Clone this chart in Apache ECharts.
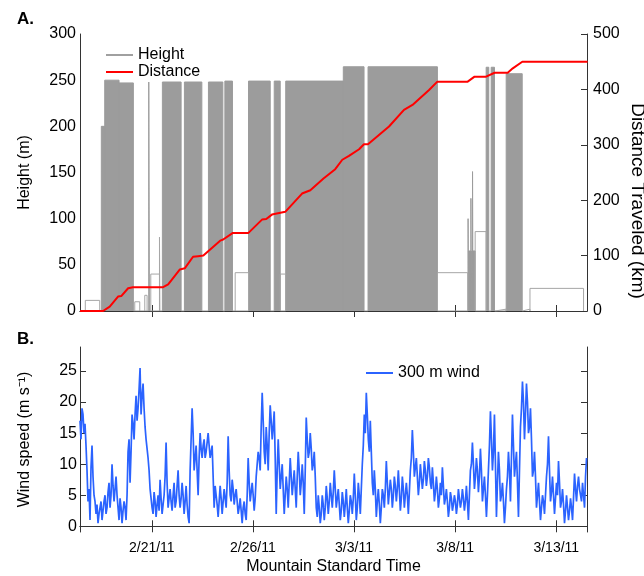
<!DOCTYPE html>
<html><head><meta charset="utf-8">
<script src="https://cdn.jsdelivr.net/npm/echarts@6/dist/echarts.min.js"></script>
<style>html,body{margin:0;padding:0;background:#fff}#c{width:644px;height:576px}</style>
</head><body><div id="c"></div>
<script>
// ---------- data (x in days since 2/16/11 00:00 MST) ----------
const tickDays = [5, 10, 15, 20, 25];
const tickLabels = ['2/21/11', '2/26/11', '3/3/11', '3/8/11', '3/13/11'];
const xMinDay = 1.45, xMaxDay = 26.52;
const windTicks = [0, 5, 10, 15, 20, 25];

// dense profiling periods of the tethered balloon (filled)
const heightBlockStart = [2.504, 2.673, 3.381, 4.851, 5.524, 6.613, 7.801, 8.613, 9.782, 11.054, 11.623, 14.470, 15.693, 20.64, 20.66, 20.78, 20.80, 20.86, 20.88, 21.534, 21.782, 22.524];
const heightBlockEnd   = [2.673, 3.381, 4.089, 4.881, 6.450, 7.475, 8.514, 8.990, 10.856, 11.351, 14.470, 15.495, 19.123, 20.66, 20.78, 20.80, 20.86, 20.88, 20.99, 21.663, 21.945, 23.316];
const heightBlockTop   = [200, 250, 247, 248, 248, 248, 248, 249, 249, 249, 249, 264.5, 264.5, 100, 65, 122, 65, 151, 65, 264, 264, 257];

// low-level holding periods (outline only)
const heightLowStart = [1.712, 4.158, 4.653, 4.950, 5.38, 9.123, 11.351, 19.123, 20.99, 21.98, 23.32, 23.70];
const heightLowEnd   = [2.425, 4.405, 4.767, 5.38, 5.40, 9.782, 11.623, 20.623, 21.534, 22.52, 23.70, 26.35];
const heightLowLevel = [11.5, 10, 17, 40, 80, 41.5, 40, 41.5, 86, 2, 2, 24.5];

// cumulative distance traveled (km)
const distanceDay = [1.45, 2.59, 2.92, 3.33, 3.49, 3.83, 4.07, 5.56, 5.81, 6.39, 6.63, 7.04, 7.29, 7.55, 8.38, 8.53, 9.01, 9.78, 10.45, 10.66, 10.94, 11.60, 12.43, 12.84, 13.49, 14.07, 14.42, 14.75, 15.25, 15.49, 15.69, 16.73, 17.47, 17.89, 18.71, 19.12, 20.62, 20.96, 21.53, 21.95, 22.60, 22.85, 23.32, 26.55];
const distanceKm  = [0, 0, 8, 26, 27, 41, 43, 43, 48, 75, 77, 98, 99, 100, 127, 129, 141, 141, 165, 166, 174, 179, 212, 218, 239, 256, 273, 280, 292, 301, 301, 333, 363, 372, 399, 414, 414, 423, 423, 430, 430, 438, 450, 450];

// 300 m wind speed (m/s): samples every windStepDay from windStartDay,
// plus the readings halfway between consecutive samples
const windStartDay = 1.45, windStepDay = 0.099;
const windSpeed = [
 17,19,15,13,4,1,13,5,2,0.5, 3,1,4,2,5.5,3,10,4,8,3,
 4.5,0.5,4,1,12,7,18,14,21,19, 25.5,21,19,14,11,6,3,5.5,1.5,5,
 7.5,2,5,13.5,3,6,2.5,7,4,9, 3,7,2,6.5,1.5,9,19,9,13,5,
 15,11,14,12,15,11,13,3,5,1.5, 6.5,2,6,3,14.5,5,7.5,3.5,6,2,
 4.5,0.5,4,1,11,4,7,2.5,8,12, 9,21.5,12,16,9,19.5,14,18.5,2,14,
 6,10,2,8,3,11,5,9,3,12, 5,10,2,17.5,11,15,9,12,3,5,
 0.5,5,1,6.5,2,7,3,9,3,6, 1,5.5,1.5,6,0.5,5,2,8.5,1,7,
 2,10,18,21.5,14,17,7,9,1.5,6, 0.5,6,3,10.5,3.5,7.5,3,8,4,9,
 2.5,8,3,7,2,9,15.5,8,11,5, 10,6,10.5,6.5,11,7,9.5,4,8,3,
 7,9.5,3.5,6,1.5,5.5,2.5,5,2,6, 3,6,2.5,6.5,1,9,13.5,6,11,5.5,
 12.5,4,8,1.5,9,18.5,9,18,1.5,12, 4,7,0.5,6,12,4,18,8,12,1.5,
 16,23.3,14,23,15,19,8,12,3,7, 1,5,2,8,14.5,4,8,2,7,10.5,
 3,6,0.5,5,1,4.5,1,8.5,4,8, 5,7,3,11
];
const windSpeedMid = [
 14,18,16.5,9,6,9.5,8,4,3.5,2, 4,2.5,5,3,7,5,6.5,6,5,1,
 3,2.5,3,5,14,12,16.5,18,17,22, 18,23,16,12.5,9,4.5,2,4,3.5,2.5,
 4.5,3.5,8,7,4.5,4,5,3,6.5,5, 4.5,5,4,3.5,0.5,14,15,11,9,11,
 12.5,13,11,13.5,13,12,8,6.5,3.5,4, 4.5,4,4.5,7,9,4,6,5,4,3,
 2.5,3,2,5,7,5.5,5,4.5,10,11, 16,17,10,13,15,17,16,11,9,10,
 8,6,5,6,7,8,7,6,8,9, 7,7,9,14,12,12.5,10,8,1.5,3,
 2,3.5,3,4.5,4,5,5.5,6,4.5,3.5, 2.5,4,3.5,3,2.5,4,4.5,5,3,5,
 6,13,15,18,12,12,5,6,4,3.5, 3,5,6,7,5.5,6,5,6.5,6,6,
 4.5,6,5,5,5.5,11,12,9.5,8,7, 8,7.5,9,8,9.5,6,7,5.5,6,4.5,
 5,6.5,4.5,4,3,4.5,3.5,4,3.5,4.5, 4,4.5,4,4,5,10,10,8,9,8,
 9,6,5,5,13,14,12,10,7,9, 5,4,3,8,9,11,13,10,7,9,
 19,20,18,20,16,14,9,8,5,4, 3,4,5,10,9,5.5,5,4.5,5,7,
 4,3.5,2.5,3,2.5,3,4.5,6,6.5,6, 4,5,8
];

// ---------- build drawable series data ----------
const heightFill = [];
heightBlockStart.forEach((s, i) => {
  const e = heightBlockEnd[i], h = heightBlockTop[i];
  heightFill.push([s, 0], [s, h], [e, h], [e, 0]);
});
const heightOutline = [];
heightLowStart.forEach((s, i) => {
  const e = heightLowEnd[i], h = heightLowLevel[i];
  heightOutline.push([s, 0], [s, h], [e, h], [e, 0], null);
});
const distanceData = distanceDay.map((d, i) => [d, distanceKm[i]]);
const windData = [];
windSpeed.forEach((v, i) => {
  windData.push([windStartDay + i * windStepDay, v]);
  if (i < windSpeedMid.length) windData.push([windStartDay + (i + 0.5) * windStepDay, windSpeedMid[i]]);
});

const FONT = 'Liberation Sans, Arial, Helvetica, sans-serif';
const AX = '#333';
const lineAx = {show: true, lineStyle: {color: AX, width: 1}};

function xAx(grid, pos, labels) {
  return {
    type: 'value', gridIndex: grid, position: pos, min: xMinDay, max: xMaxDay,
    axisLine: lineAx,
    axisTick: {show: true, inside: true, length: 6, customValues: tickDays, lineStyle: {color: AX}},
    axisLabel: labels ? {show: true, customValues: tickDays, margin: 9, fontSize: 14, color: '#000', fontFamily: FONT,
      formatter: v => tickLabels[tickDays.indexOf(v)] || ''} : {show: false, customValues: tickDays},
    splitLine: {show: false}
  };
}

const chart = echarts.init(document.getElementById('c'), null, {renderer: 'canvas'});
chart.setOption({
  animation: false,
  backgroundColor: '#fff',
  textStyle: {fontFamily: FONT},
  grid: [
    {left: 80, top: 34, width: 507, height: 277},
    {left: 80, top: 347, width: 507, height: 185}
  ],
  xAxis: [
    xAx(0, 'bottom', false),
    xAx(0, 'top', false),
    Object.assign(xAx(1, 'bottom', true), {
      name: 'Mountain Standard Time', nameLocation: 'middle', nameGap: 27,
      nameTextStyle: {fontSize: 16, color: '#000', fontFamily: FONT}
    }),
    xAx(1, 'top', false)
  ],
  yAxis: [
    {type: 'value', gridIndex: 0, position: 'left', min: 0, max: 300, interval: 50,
     axisLine: lineAx, axisTick: {show: false}, splitLine: {show: false},
     axisLabel: {fontSize: 16, color: '#000', margin: 4, fontFamily: FONT},
     name: 'Height (m)', nameLocation: 'middle', nameGap: 47,
     nameTextStyle: {fontSize: 16, color: '#000', fontFamily: FONT}},
    {type: 'value', gridIndex: 0, position: 'right', min: 0, max: 500, interval: 100,
     axisLine: lineAx, axisTick: {show: true, inside: true, length: 6, lineStyle: {color: AX}}, splitLine: {show: false},
     axisLabel: {fontSize: 16, color: '#000', margin: 6, fontFamily: FONT}},
    {type: 'value', gridIndex: 1, position: 'left', min: -0.92, max: 28.87,
     axisLine: lineAx, axisTick: {show: true, inside: true, length: 6, customValues: windTicks, lineStyle: {color: AX}},
     splitLine: {show: false},
     axisLabel: {fontSize: 16, color: '#000', margin: 3, customValues: windTicks, fontFamily: FONT},
     name: 'Wind speed (m s\u207B\u00B9)', nameLocation: 'middle', nameGap: 47,
     nameTextStyle: {fontSize: 16, color: '#000', fontFamily: FONT}},
    {type: 'value', gridIndex: 1, position: 'right', min: -0.92, max: 28.87,
     axisLine: lineAx, axisTick: {show: true, inside: true, length: 6, customValues: windTicks, lineStyle: {color: AX}},
     splitLine: {show: false}, axisLabel: {show: false, customValues: windTicks}}
  ],
  legend: [
    {data: [{name: 'Height', icon: 'rect', itemStyle: {color: '#a0a0a0'}},
            {name: 'Distance', icon: 'rect', itemStyle: {color: '#ff0000'}}],
     orient: 'vertical', left: 106, top: 47, padding: 0,
     itemWidth: 27, itemHeight: 2, itemGap: 1,
     textStyle: {fontSize: 16, color: '#000', fontFamily: FONT}},
    {data: [{name: '300 m wind', icon: 'rect', itemStyle: {color: '#2b63ff'}}],
     orient: 'vertical', left: 366, top: 365, padding: 0,
     itemWidth: 27, itemHeight: 2,
     textStyle: {fontSize: 16, color: '#000', fontFamily: FONT}}
  ],
  graphic: [
    {type: 'text', left: 17, top: 11, style: {text: 'A.', font: 'bold 17px ' + FONT, fill: '#000'}},
    {type: 'text', left: 17, top: 331, style: {text: 'B.', font: 'bold 17px ' + FONT, fill: '#000'}},
    {type: 'text', x: 637, y: 201, rotation: -Math.PI / 2,
     style: {text: 'Distance Traveled (km)', font: '19px ' + FONT, fill: '#000', align: 'center', verticalAlign: 'middle'}}
  ],
  series: [
    {name: 'Height', type: 'line', xAxisIndex: 0, yAxisIndex: 0, data: heightFill,
     symbol: 'none', showSymbol: false, z: 2,
     lineStyle: {color: '#9c9c9c', width: 1}, itemStyle: {color: '#9c9c9c'},
     areaStyle: {color: '#9c9c9c', opacity: 1}},
    {name: 'Height', type: 'line', xAxisIndex: 0, yAxisIndex: 0, data: heightOutline,
     symbol: 'none', showSymbol: false, connectNulls: false, z: 2,
     lineStyle: {color: '#a6a6a6', width: 1}, itemStyle: {color: '#9c9c9c'}},
    {name: 'Distance', type: 'line', xAxisIndex: 0, yAxisIndex: 1, data: distanceData,
     symbol: 'none', showSymbol: false, z: 3,
     lineStyle: {color: '#ff0000', width: 2}, itemStyle: {color: '#ff0000'}},
    {name: '300 m wind', type: 'line', xAxisIndex: 2, yAxisIndex: 2, data: windData,
     symbol: 'none', showSymbol: false, z: 2,
     lineStyle: {color: '#2b63ff', width: 1.7}, itemStyle: {color: '#2b63ff'}}
  ]
});
</script></body></html>
